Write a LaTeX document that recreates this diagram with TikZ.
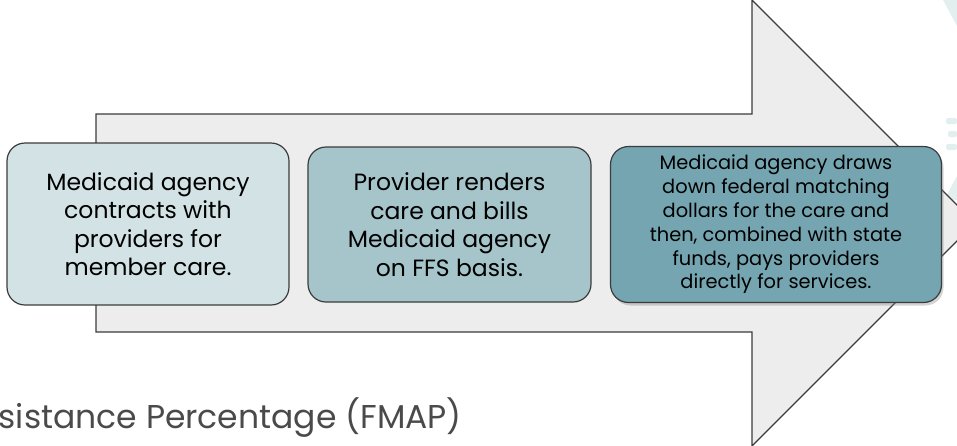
\documentclass[tikz,border=0pt]{standalone}
\usepackage{fontspec}
\setmainfont{Poppins}
\usetikzlibrary{shadows}

\definecolor{arrowfill}{HTML}{EDEDED}
\definecolor{edgegray}{HTML}{3C3C3C}
\definecolor{stepone}{HTML}{D3E2E5}
\definecolor{steptwo}{HTML}{A5C5CA}
\definecolor{stepthree}{HTML}{74A5B0}
\definecolor{captiongray}{HTML}{4A4A4A}
\definecolor{watermark}{HTML}{E3EFEF}

\tikzset{
  bigarrow/.style={
    draw=edgegray,
    fill=arrowfill,
    line width=1.1pt
  },
%
  stepbox/.style={
    draw=edgegray,
    fill=#1,
    line width=1.2pt,
    rounded corners=18pt,
    align=center,
    inner sep=0pt
  },
  stepbox/.default={stepone},
%
  bigtext/.style={
    font=\fontsize{23.5}{28.5}\selectfont
  },
%
  smalltext/.style={
    font=\fontsize{19.4}{23.8}\selectfont
  },
}

\begin{document}
\begin{tikzpicture}[x=1pt, y=-1pt]
\useasboundingbox (0,0) rectangle (957,445);
\clip (0,0) rectangle (957,445);

% faint logo at the right edge
\fill[watermark] (943,0) -- (957,0) -- (957,26) -- cycle;
\fill[watermark, rounded corners=2pt] (946,118) rectangle (957,124);
\fill[watermark, rounded corners=2pt] (948,131) rectangle (957,137);
\fill[watermark, rounded corners=2pt] (946,144) rectangle (957,150);
\fill[watermark] (957,176) -- (944,200) -- (957,200) -- cycle;

% the big arrow
\draw[bigarrow] (96,114) -- (752,114) -- (752,0) -- (975,223) -- (752,446)
  -- (752,332) -- (96,332) -- cycle;

\node[stepbox=stepone, minimum width=282, minimum height=162, bigtext] at (148,224) (contract)
  {Medicaid agency\\contracts with\\providers for\\member care.};
\node[stepbox=steptwo, minimum width=283, minimum height=155, bigtext] at (449.5,224.5) (bill)
  {Provider renders\\care and bills\\Medicaid agency\\on FFS basis.};
\node[stepbox=stepthree, minimum width=331, minimum height=156, smalltext,
  drop shadow={shadow xshift=2pt, shadow yshift=-3pt, opacity=0.35}] at (776,224.5) (pay)
  {Medicaid agency draws\\down federal matching\\dollars for the care and\\then, combined with state\\funds, pays providers\\directly for services.};

\node[anchor=base east, text=captiongray, font=\fontsize{33}{40}\selectfont, inner sep=0pt]
  at (462,428) (fmap) {sistance Percentage (FMAP)};

\end{tikzpicture}
\end{document}
